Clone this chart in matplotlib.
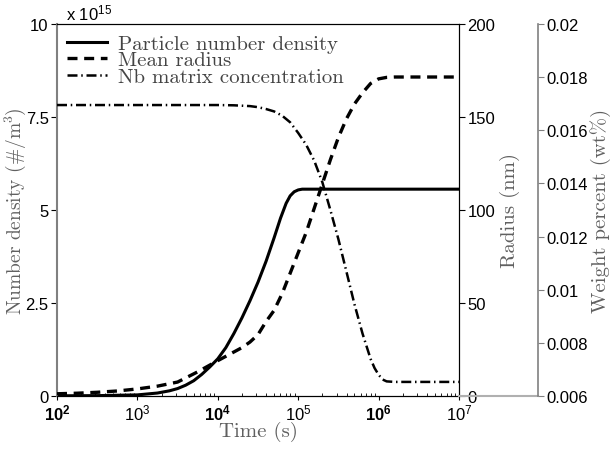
import numpy as np
import matplotlib
matplotlib.use('Agg')
import matplotlib.pyplot as plt

plt.rcParams['font.family'] = ['Liberation Sans', 'DejaVu Sans']
plt.rcParams['mathtext.fontset'] = 'custom'
plt.rcParams['mathtext.rm'] = 'Liberation Sans'
plt.rcParams['mathtext.bf'] = 'Liberation Sans:bold'
plt.rcParams['mathtext.sf'] = 'cmr10'
plt.rcParams['axes.unicode_minus'] = False

# particle number density (x 1e15 #/m^3), time as log10(s)
t_den = [2, 2.5, 3, 3.25, 3.4, 3.5, 3.6, 3.7, 3.8, 3.9, 4.0, 4.1, 4.2, 4.3, 4.4, 4.5, 4.6,
         4.7, 4.78, 4.85, 4.9, 4.95, 5.0, 5.05, 5.15, 7]
den = [0.005, 0.01, 0.03, 0.08, 0.14, 0.2, 0.29, 0.41, 0.58, 0.78, 1.0, 1.3, 1.68, 2.1, 2.56,
       3.06, 3.62, 4.25, 4.78, 5.18, 5.38, 5.49, 5.54, 5.56, 5.56, 5.56]

# mean radius (nm)
t_rad = [2, 2.25, 2.5, 2.75, 3, 3.25, 3.5, 3.75, 4, 4.15, 4.3, 4.4, 4.5, 4.6, 4.7, 4.8,
         4.9, 5.0, 5.1, 5.2, 5.3, 5.4, 5.5, 5.6, 5.7, 5.8, 5.9, 6.0, 6.1, 6.2, 7]
rad = [1.2, 1.5, 2, 2.7, 3.8, 5.3, 7.5, 13, 19, 22.5, 26, 29, 33, 40, 46, 55,
       66, 77, 88, 101, 114, 127, 139, 149, 157, 163, 168, 170.5, 171.3, 171.5, 171.5]

# Nb matrix concentration (wt%)
t_wt = [2, 3, 4, 4.2, 4.4, 4.5, 4.6, 4.7, 4.8, 4.9, 5.0, 5.1, 5.2, 5.3, 5.4, 5.5, 5.6,
        5.7, 5.8, 5.9, 5.95, 6.0, 6.05, 6.1, 6.2, 7]
wt = [0.01695, 0.01695, 0.01695, 0.01694, 0.01691, 0.01687, 0.0168, 0.01671, 0.01655,
      0.0163, 0.0159, 0.01545, 0.01485, 0.01405, 0.013, 0.0119, 0.01068, 0.00945,
      0.00835, 0.0074, 0.00705, 0.0068, 0.00662, 0.00655, 0.00653, 0.00653]

gray = '#808080'
lblgray = '#606060'
serif = 'cmr10'

fig = plt.figure(figsize=(6.1, 4.52), dpi=100)
ax = fig.add_axes([57/610, 1-397/452, 402/610, 372/452])
ax2 = ax.twinx()
ax3 = ax.twinx()
ax3.spines['right'].set_position(('axes', (538-57)/402))

l1, = ax.plot(10**np.array(t_den), den, 'k-', lw=2.2)
l2, = ax2.plot(10**np.array(t_rad), rad, 'k--', lw=2.4, dashes=(3, 2))
l3, = ax3.plot(10**np.array(t_wt), wt, 'k', lw=1.8, dashes=(4, 1.5, 0.6, 1.5))

ax.set_xscale('log')
ax.set_xlim(1e2, 1e7)
ax.set_ylim(0, 10)
ax2.set_ylim(0, 200)
ax3.set_ylim(0.006, 0.02)

ax.set_yticks([0, 2.5, 5, 7.5, 10])
ax.set_yticklabels(['0', '2.5', '5', '7.5', '10'])
ax2.set_yticks([0, 50, 100, 150, 200])
ax3.set_yticks([0.006, 0.008, 0.01, 0.012, 0.014, 0.016, 0.018, 0.02])
ax3.set_yticklabels(['0.006', '0.008', '0.01', '0.012', '0.014', '0.016', '0.018', '0.02'])

xt = [1e2, 1e3, 1e4, 1e5, 1e6, 1e7]
xl = [r'$\mathbf{10^{2}}$', r'$\mathrm{10^{3}}$', r'$\mathbf{10^{4}}$',
      r'$\mathrm{10^{5}}$', r'$\mathbf{10^{6}}$', r'$\mathrm{10^{7}}$']
ax.set_xticks(xt)
ax.set_xticklabels(xl)

for a in (ax, ax2, ax3):
    a.tick_params(labelsize=12, width=0.8)
ax.tick_params(axis='y', direction='out', length=4, pad=2)
ax.tick_params(axis='x', which='major', direction='out', length=3, pad=2)
ax.tick_params(axis='x', which='minor', direction='in', length=2)
ax2.tick_params(axis='y', direction='out', length=4, pad=2)
ax3.tick_params(axis='y', direction='out', length=4, pad=2, color=gray)

ax.spines['left'].set_color(gray)
ax.spines['left'].set_linewidth(1.5)
ax2.spines['left'].set_visible(False)
ax3.spines['left'].set_visible(False)
ax3.spines['top'].set_visible(False)
ax3.spines['bottom'].set_visible(False)
ax3.spines['right'].set_color(gray)
ax3.spines['right'].set_linewidth(1.2)
ax3.plot([1, (538-57)/402], [0, 0], transform=ax3.transAxes, clip_on=False,
         color='#b0b0b0', lw=1.5)

ax.set_xlabel('Time (s)', fontfamily=serif, fontsize=15, color=lblgray)
ax.xaxis.set_label_coords(0.5, -0.066)
ax.set_ylabel(r'Number density (#/m$^{\mathsf{3}}$)', fontfamily=serif, fontsize=14,
              color=lblgray)
ax.yaxis.set_label_coords(-0.073, 0.5)
ax2.set_ylabel('Radius (nm)', fontfamily=serif, fontsize=15, color=lblgray)
ax2.yaxis.set_label_coords(1.102, 0.5)
ax3.set_ylabel('Weight percent (wt%)', fontfamily=serif, fontsize=15, color=lblgray)
ax3.yaxis.set_label_coords(1.326, 0.5)

fig.text(66/610, 1-13/452, r'x $\mathrm{10^{15}}$', fontsize=12, va='center', ha='left')

leg = ax.legend([l1, l2, l3], ['Particle number density', 'Mean radius', 'Nb matrix concentration'],
                loc='upper left', frameon=False, prop={'family': serif, 'size': 15},
                handlelength=1.9, labelspacing=-0.1, borderaxespad=0.1, handletextpad=0.55,
                bbox_to_anchor=(0.0, 1.0))
for txt in leg.get_texts():
    txt.set_color('#444444')

fig.savefig('out.png', dpi=100)
